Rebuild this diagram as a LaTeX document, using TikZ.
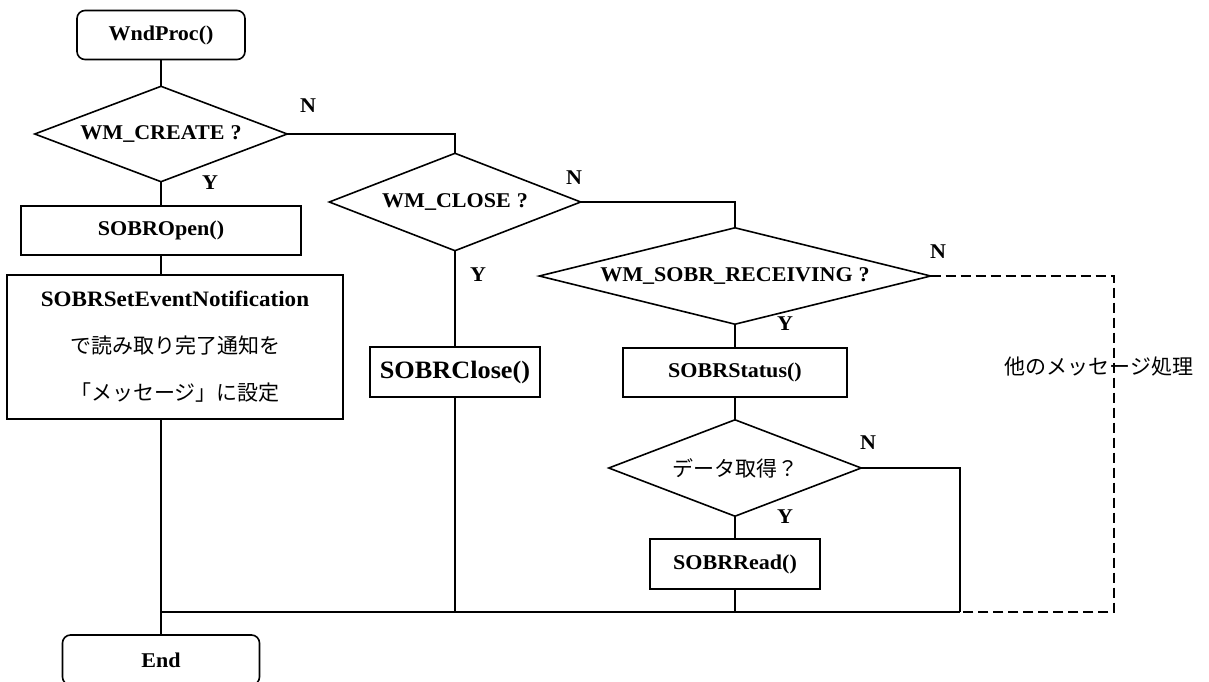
\documentclass[tikz,border=0pt]{standalone}
\usepackage{fontspec}
\setmainfont[FakeStretch=1.05]{Liberation Serif}
\newfontfamily\cjk{Noto Sans CJK JP}

\begin{document}
\begin{tikzpicture}[x=1pt,y=-1pt,
  every node/.style={font=\fontsize{21}{25}\selectfont\bfseries},
  line/.style={line width=1.6pt},
  flowdash/.style={line width=1.6pt,dash pattern=on 10pt off 5pt},
  term/.style={draw,line width=1.6pt,rounded corners=8pt,inner sep=0pt},
  proc/.style={draw,line width=1.6pt,inner sep=0pt},
  test/.style={inner sep=0pt},
  yn/.style={font=\fontsize{21}{25}\selectfont\bfseries},
  jp/.style={font=\fontsize{21}{25}\selectfont\cjk}
]
\useasboundingbox (0,0) rectangle (1209,682);

% terminals
\node[term,minimum width=168pt,minimum height=49pt] (start) at (161,35) {WndProc()};
\node[term,minimum width=197pt,minimum height=50pt] (end) at (161,660) {End};

% decisions (outline drawn below from the node anchors)
\node[test,minimum width=252pt,minimum height=95pt] (c1) at (161,134) {WM\_CREATE\hspace{6pt}?};
\node[test,minimum width=251pt,minimum height=97pt] (c2) at (455,202) {WM\_CLOSE\hspace{6pt}?};
\node[test,minimum width=391pt,minimum height=96pt] (c3) at (735,276) {WM\_SOBR\_RECEIVING\hspace{6pt}?};
\node[test,minimum width=252pt,minimum height=96pt,jp] (c4) at (735,468) {データ取得？};
\foreach \d in {c1,c2,c3,c4}
  \draw[line,line join=miter] (\d.west) -- (\d.north) -- (\d.east) -- (\d.south) -- cycle;

% processes
\node[proc,minimum width=280pt,minimum height=49pt] (open) at (161,230.5) {SOBROpen()};
\node[proc,minimum width=336pt,minimum height=144pt,align=center,
      font=\fontsize{21}{47}\selectfont] (setev) at (175,347)
  {{\fontsize{22}{47}\selectfont\bfseries SOBRSetEventNotification}\\ {\cjk で読み取り完了通知を}\\ {\cjk 「メッセージ」に設定}};
\node[proc,minimum width=170pt,minimum height=50pt,
      font=\fontsize{25}{30}\selectfont\bfseries] (close) at (455,372) {SOBRClose()};
\node[proc,minimum width=224pt,minimum height=49pt] (status) at (735,372.5) {SOBRStatus()};
\node[proc,minimum width=170pt,minimum height=50pt] (read) at (735,564) {SOBRRead()};

% branch labels
\node[yn] (n1) at (308,106) {N};
\node[yn] (y1) at (210,183) {Y};
\node[yn] (n2) at (574,178) {N};
\node[yn] (y2) at (478,275) {Y};
\node[yn] (n3) at (938,252) {N};
\node[yn] (y3) at (785,324) {Y};
\node[yn] (n4) at (868,443) {N};
\node[yn] (y4) at (785,517) {Y};

\node[jp] (other) at (1099,367) {他のメッセージ処理};

% join points
\coordinate (jR) at (960,612);
\coordinate (dR) at (1114,612);

% connectors
\draw[line] (start.south) -- (c1.north);
\draw[line] (c1.south) -- (open.north);
\draw[line] (open.south) -- (open.south |- setev.north);
\draw[line] (open.south |- setev.south) -- (end.north);
\draw[line] (c1.east) -| (c2.north);
\draw[line] (c2.south) -- (close.north);
\draw[line] (close.south) -- (close.south |- jR);
\draw[line] (c2.east) -| (c3.north);
\draw[line] (c3.south) -- (status.north);
\draw[line] (status.south) -- (c4.north);
\draw[line] (c4.south) -- (read.north);
\draw[line] (read.south) -- (read.south |- jR);
\draw[line] (c4.east) -| (jR);
\draw[line] (end.north |- jR) -- (jR);
\draw[flowdash] (c3.east) -| (dR) -- (jR);
\end{tikzpicture}
\end{document}
